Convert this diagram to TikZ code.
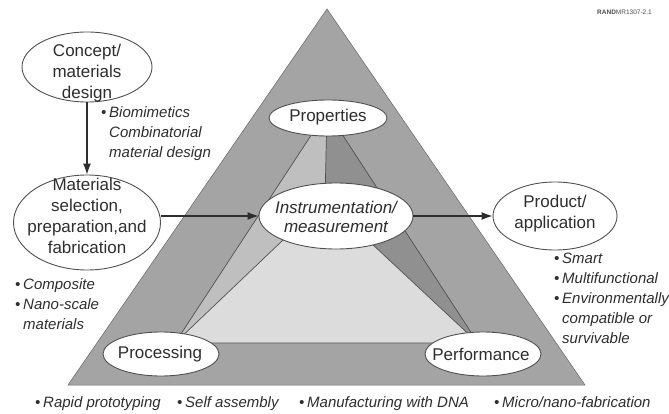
\documentclass[tikz,border=0pt]{standalone}
\usepackage{fontspec}
\setmainfont{Liberation Sans}
\usetikzlibrary{shapes.geometric,arrows.meta}

\definecolor{outergray}{HTML}{A4A4A4}
\definecolor{leftface}{HTML}{BFBFBF}
\definecolor{rightface}{HTML}{909090}
\definecolor{baseface}{HTML}{DCDCDC}
\definecolor{ink}{HTML}{2E2E2E}
\definecolor{edgegray}{HTML}{505050}

\newcommand\notebullet{\makebox[8pt][l]{\textbullet}}

\tikzset{
  bubble/.style={ellipse, draw=edgegray, line width=0.9pt, fill=white, inner sep=0pt},
  bubtext/.style={text=ink, align=center, inner sep=0pt,
                  font=\fontsize{17}{21}\selectfont},
  bubitext/.style={bubtext, font=\fontsize{17}{19}\selectfont\itshape},
  notes/.style={text=ink, align=left, inner sep=0pt, anchor=north west,
                font=\fontsize{15}{20}\selectfont\itshape},
  rownote/.style={text=ink, inner sep=0pt, anchor=base west,
                  font=\fontsize{15}{18}\selectfont\itshape},
  flow/.style={draw=ink, line width=1.1pt, -{Latex[length=11pt,width=8pt]}},
  ridge/.style={draw=edgegray, line width=0.7pt},
}

\begin{document}
\begin{tikzpicture}[x=1pt,y=-1pt]
  \useasboundingbox (0,0) rectangle (669,414);
  \fill[white] (0,0) rectangle (669,414);

  % outer pyramid outline
  \coordinate (top) at (327,9);
  \coordinate (bl) at (68,385);
  \coordinate (br) at (585,385);
  \filldraw[fill=outergray, draw=gray!80!black, line width=0.5pt] (top) -- (bl) -- (br) -- cycle;

  % inner tetrahedron: apex, back vertex, two front vertices
  \coordinate (A) at (327,111);
  \coordinate (I) at (325,200);
  \coordinate (L) at (175,343);
  \coordinate (R) at (478,343);
  \fill[leftface] (A) -- (I) -- (L) -- cycle;
  \fill[rightface] (A) -- (I) -- (R) -- cycle;
  \fill[baseface] (I) -- (L) -- (R) -- cycle;
  \draw[ridge] (A) -- (L) -- (R) -- cycle;
  \draw[ridge] (A) -- (I);
  \draw[ridge] (I) -- (L);
  \draw[ridge] (I) -- (R);

  % ellipses
  \node[bubble, minimum width=130pt, minimum height=70pt] (concept) at (87,67) {};
  \node[bubble, minimum width=147pt, minimum height=95pt] (mat) at (87,222.5) {};
  \node[bubble, minimum width=118pt, minimum height=36pt] (prop) at (328,118) {};
  \node[bubble, minimum width=154pt, minimum height=66pt] (instr) at (336,216) {};
  \node[bubble, minimum width=116pt, minimum height=44pt] (proc) at (161,354) {};
  \node[bubble, minimum width=116pt, minimum height=44pt] (perf) at (483,354) {};
  \node[bubble, minimum width=124pt, minimum height=68pt] (prod) at (555,216) {};

  % ellipse texts
  \node[bubtext] (concept-t) at (87,73) {Concept/\\materials\\design};
  \node[bubtext] (mat-t) at (87,216) {Materials\\selection,\\preparation,and\\fabrication};
  \node[bubtext] (prop-t) at (328,117) {Properties};
  \node[bubitext] (instr-t) at (336,217) {Instrumentation/\\measurement};
  \node[bubtext] (proc-t) at (160,354) {Processing};
  \node[bubtext] (perf-t) at (481,354) {Performance};
  \node[bubtext] (prod-t) at (555,214) {Product/\\application};

  % flow arrows
  \draw[flow] (concept) -- (mat);
  \draw[flow] (instr.west -| mat.east) -- (instr.west);
  \draw[flow] (instr) -- (prod);

  % notes
  \node[notes] (n-design) at (109,106)
    {\llap{\notebullet}Biomimetics\\Combinatorial\\material design};
  \node[notes] (n-mat) at (23,278)
    {\llap{\notebullet}Composite\\\llap{\notebullet}Nano-scale\\materials};
  \node[notes] (n-prod) at (562,253)
    {\llap{\notebullet}Smart\\\llap{\notebullet}Multifunctional\\\llap{\notebullet}Environmentally\\compatible or\\survivable};

  \node[rownote] (r1) at (35,407) {\notebullet Rapid prototyping};
  \node[rownote] (r2) at (177,407) {\notebullet Self assembly};
  \node[rownote] (r3) at (299,407) {\notebullet Manufacturing with DNA};
  \node[rownote] (r4) at (494,407) {\notebullet Micro/nano-fabrication};

  % figure tag
  \node[text=gray!60!black, inner sep=0pt, anchor=west, font=\fontsize{6.5}{7}\selectfont] (tag) at (597,12) {\textbf{RAND}MR1307-2.1};
\end{tikzpicture}
\end{document}
